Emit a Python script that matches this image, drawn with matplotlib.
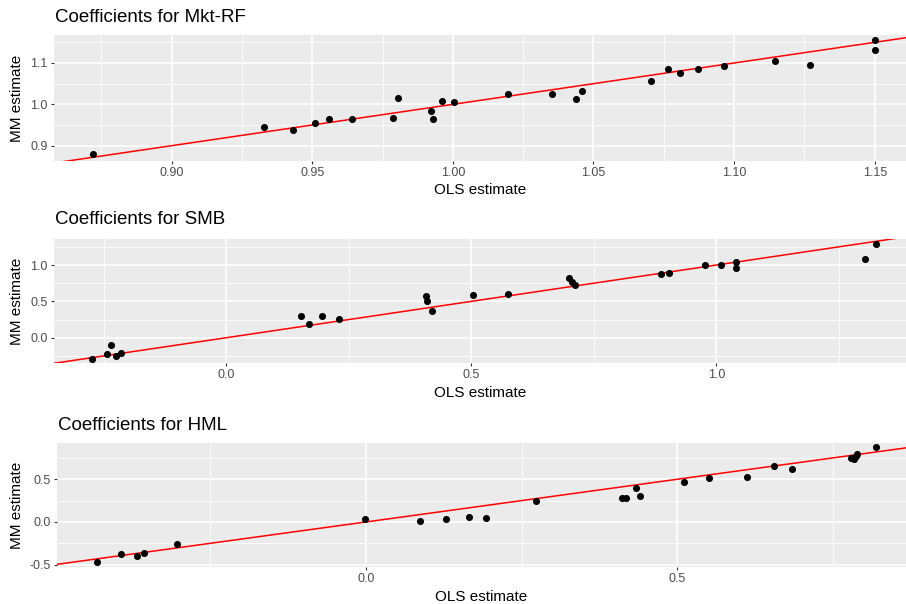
import numpy as np
import matplotlib
matplotlib.use("Agg")
import matplotlib.pyplot as plt
from matplotlib.ticker import MultipleLocator

plt.rcParams['font.family'] = ['Liberation Sans', 'DejaVu Sans']

# OLS vs MM coefficient estimates per factor
mkt_ols = [0.8719, 0.9327, 0.9433, 0.9510, 0.9560, 0.9641, 0.9787, 0.9805, 0.9922,
           0.9929, 0.9961, 1.0004, 1.0195, 1.0351, 1.0438, 1.0460, 1.0705, 1.0765,
           1.0806, 1.0871, 1.0964, 1.1145, 1.1270, 1.1502, 1.1502]
mkt_mm = [0.879, 0.945, 0.937, 0.954, 0.9645, 0.9645, 0.966, 1.016, 0.985,
          0.965, 1.008, 1.006, 1.025, 1.026, 1.014, 1.032, 1.057, 1.085,
          1.077, 1.086, 1.092, 1.106, 1.095, 1.155, 1.131]

smb_ols = [-0.2736, -0.243, -0.2347, -0.2252, -0.2158, 0.152, 0.1675, 0.1958, 0.2288,
           0.408, 0.409, 0.4186, 0.5035, 0.5755, 0.700, 0.706, 0.712, 0.887,
           0.903, 0.976, 1.009, 1.041, 1.041, 1.304, 1.325]
smb_mm = [-0.289, -0.225, -0.1055, -0.248, -0.206, 0.294, 0.193, 0.294, 0.257,
          0.569, 0.505, 0.362, 0.592, 0.601, 0.821, 0.766, 0.729, 0.876,
          0.885, 1.005, 1.005, 1.041, 0.963, 1.087, 1.284]

hml_ols = [-0.4323, -0.3933, -0.3673, -0.3562, -0.3033, -0.001, 0.0863, 0.128, 0.165,
           0.192, 0.2727, 0.411, 0.417, 0.434, 0.4406, 0.510, 0.551, 0.612,
           0.655, 0.6846, 0.778, 0.783, 0.7866, 0.789, 0.819]
hml_mm = [-0.471, -0.377, -0.401, -0.358, -0.261, 0.031, 0.0156, 0.031, 0.054,
          0.047, 0.241, 0.280, 0.280, 0.397, 0.3035, 0.467, 0.510, 0.529,
          0.650, 0.6226, 0.743, 0.735, 0.774, 0.794, 0.872]

W, H = 906, 604
fig = plt.figure(figsize=(W / 100, H / 100), dpi=100)

panels = [
    # name, x, y, [left, top, bottom] px, xlim, ylim, xmajor, ymajor, title y, xlabel y
    ("Mkt-RF", mkt_ols, mkt_mm, (54, 35, 161), (0.8582, 1.1611), (0.863, 1.1677), 0.05, 0.1, 18, 190),
    ("SMB", smb_ols, smb_mm, (54, 239, 363), (-0.352, 1.387), (-0.348, 1.358), 0.5, 0.5, 220, 393),
    ("HML", hml_ols, hml_mm, (57, 443, 567), (-0.496, 0.867), (-0.527, 0.924), 0.5, 0.5, 425, 597),
]

for name, xs, ys, (l, t, b), xl, yl, xm, ym, ty, xly in panels:
    ax = fig.add_axes([l / W, 1 - b / H, 1 - l / W, (b - t) / H])
    ax.set_facecolor('#EBEBEB')
    for s in ax.spines.values():
        s.set_visible(False)
    ax.set_xlim(*xl)
    ax.set_ylim(*yl)
    ax.xaxis.set_major_locator(MultipleLocator(xm))
    ax.xaxis.set_minor_locator(MultipleLocator(xm / 2))
    ax.yaxis.set_major_locator(MultipleLocator(ym))
    ax.yaxis.set_minor_locator(MultipleLocator(ym / 2))
    ax.grid(which='major', color='white', linewidth=1.1)
    ax.grid(which='minor', color='white', linewidth=0.55)
    ax.set_axisbelow(True)
    ax.tick_params(which='major', length=2.5, width=0.8, color='#333333',
                   labelsize=9, labelcolor='#4D4D4D', pad=2)
    ax.tick_params(which='minor', length=0)
    xfmt = '{:.2f}' if name == "Mkt-RF" else '{:.1f}'
    ax.xaxis.set_major_formatter(lambda v, p, f=xfmt: f.format(v))
    ax.yaxis.set_major_formatter(lambda v, p: '{:.1f}'.format(v))

    # 45-degree reference line
    lx = np.array(xl)
    ax.plot(lx, lx, color='red', linewidth=1.1, zorder=2)
    ax.scatter(xs, ys, s=26, color='black', zorder=3, linewidths=0)

    fig.text(l / W + 0.001, 1 - ty / H, "Coefficients for " + name,
             fontsize=13.5, va='center', ha='left')
    fig.text((l + W) / 2 / W, 1 - xly / H, "OLS estimate", fontsize=11,
             va='center', ha='center')
    fig.text(17 / W, 1 - (t + b) / 2 / H, "MM estimate", fontsize=11,
             va='center', ha='center', rotation=90)

fig.savefig('out.png', dpi=100)
